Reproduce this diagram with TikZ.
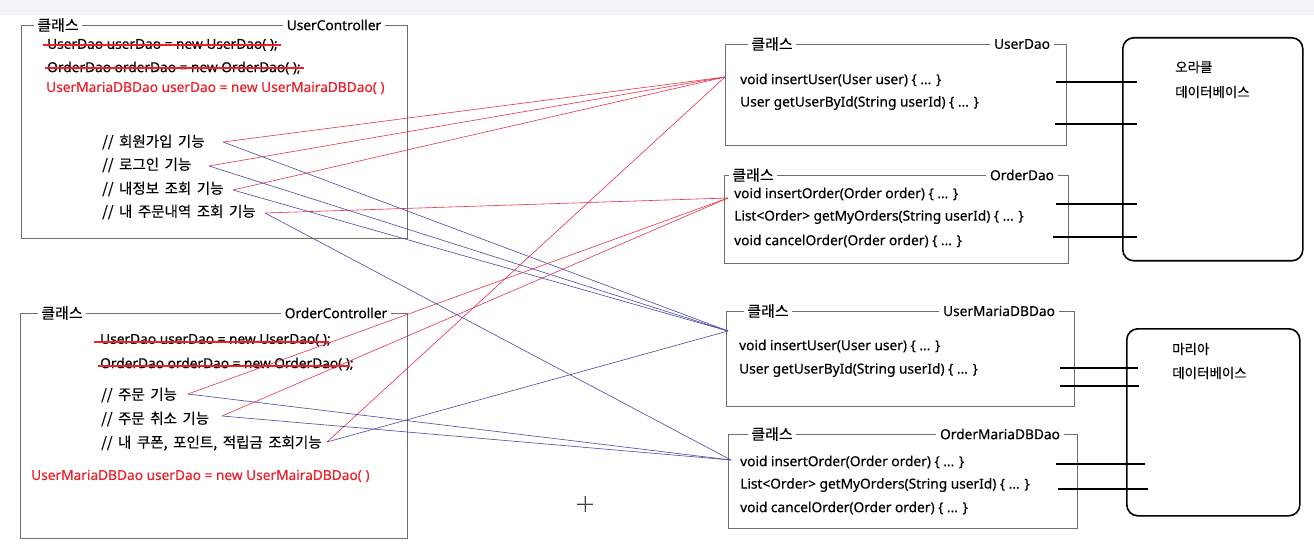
\documentclass[tikz,border=0pt]{standalone}
\usepackage{fontspec}
\setmainfont{Noto Sans}[FakeBold=0.3]
\newfontfamily\kr{Noto Sans CJK KR}[FakeBold=0.3, WordSpace=1.7]
\definecolor{codered}{HTML}{F0202A}
\definecolor{linkred}{HTML}{E8304A}
\definecolor{linkblue}{HTML}{4848A8}
\definecolor{boxline}{HTML}{6E6E6E}
\definecolor{topband}{HTML}{F3F3F5}
\newcommand{\codesize}{\fontsize{13.7}{13.7}\selectfont}
\newcommand{\krsize}{\kr\fontsize{14.5}{14.5}\selectfont}
\tikzset{
  classbox/.style={draw=boxline, line width=0.9pt, anchor=north west, inner sep=0pt},
  classtag/.style={fill=white, inner xsep=3pt, inner ysep=1pt, font=\kr\fontsize{15}{15}\selectfont},
  nametag/.style={fill=white, inner xsep=4pt, inner ysep=1pt, font=\codesize},
  codeline/.style={anchor=west, inner sep=0pt, font=\codesize},
  newcode/.style={codeline, text=codered},
  comment/.style={anchor=west, inner sep=0pt, font=\krsize},
  strike/.style={codered, line width=1.8pt},
  dbbox/.style={draw, line width=1.6pt, rounded corners=11pt, anchor=north west, inner sep=0pt},
  dblabel/.style={anchor=west, inner sep=0pt, font=\kr\fontsize{13.5}{13.5}\selectfont},
  dblink/.style={line width=1.6pt},
  toold/.style={linkred, line width=0.6pt},
  tonew/.style={linkblue, line width=0.6pt},
}
\begin{document}
\begin{tikzpicture}[x=1pt, y=-1pt]
  \useasboundingbox (0,0) rectangle (1314,553);
  \fill[white] (0,0) rectangle (1314,553);
  \fill[topband] (0,0) rectangle (1314,15);

  % UserController
  \node[classbox, minimum width=386pt, minimum height=213pt] (uc) at (21,25) {};
  \node[classtag] (uctag) at (58,25) {클래스};
  \node[nametag] (ucname) at (334,25) {UserController};
  \node[codeline] (uc1) at (47,45) {UserDao userDao = new UserDao( );};
  \node[codeline] (uc2) at (47,68) {OrderDao orderDao = new OrderDao( );};
  \node[newcode] (uc3) at (46,88) {UserMariaDBDao userDao = new UserMairaDBDao( )};
  \draw[strike] ([xshift=-4pt]uc1.west) -- ([xshift=3pt]uc1.east);
  \draw[strike] ([xshift=-2pt]uc2.west) -- ([xshift=3pt]uc2.east);
  \node[comment] (join) at (102,142) {// 회원가입 기능};
  \node[comment] (login) at (102,165) {// 로그인 기능};
  \node[comment] (myinfo) at (102,189) {// 내정보 조회 기능};
  \node[comment] (myorders) at (102,212) {// 내 주문내역 조회 기능};

  % OrderController
  \node[classbox, minimum width=387pt, minimum height=225pt] (oc) at (20,313) {};
  \node[classtag] (octag) at (62,313) {클래스};
  \node[nametag] (ocname) at (336,313) {OrderController};
  \node[codeline] (oc1) at (100,340) {UserDao userDao = new UserDao( );};
  \node[codeline] (oc2) at (100,364) {OrderDao orderDao = new OrderDao( );};
  \draw[strike] ([xshift=-6pt,yshift=-2pt]oc1.west) -- ([xshift=-2pt,yshift=-2pt]oc1.east);
  \draw[strike] ([xshift=-2pt,yshift=-2pt]oc2.west) -- ([xshift=-4pt,yshift=-2pt]oc2.east);
  \node[comment] (order) at (101,395) {// 주문 기능};
  \node[comment] (cancel) at (101,419) {// 주문 취소 기능};
  \node[comment] (coupon) at (101,443) {// 내 쿠폰, 포인트, 적립금 조회기능};
  \node[newcode] (oc3) at (31,476) {UserMariaDBDao userDao = new UserMairaDBDao( )};

  % UserDao
  \node[classbox, minimum width=341pt, minimum height=101pt] (ud) at (725,44) {};
  \node[classtag] (udtag) at (772,44) {클래스};
  \node[nametag] (udname) at (1022,44) {UserDao};
  \node[codeline] (ud1) at (740,80) {void insertUser(User user) \{ ... \}};
  \node[codeline] (ud2) at (740,103) {User getUserById(String userId) \{ ... \}};

  % OrderDao
  \node[classbox, minimum width=344pt, minimum height=88pt] (od) at (724,175) {};
  \node[classtag] (odtag) at (753,175) {클래스};
  \node[nametag] (odname) at (1022,175) {OrderDao};
  \node[codeline] (od1) at (734,194) {void insertOrder(Order order) \{ ... \}};
  \node[codeline] (od2) at (734,217) {List<Order> getMyOrders(String userId) \{ ... \}};
  \node[codeline] (od3) at (734,241) {void cancelOrder(Order order) \{ ... \}};

  % UserMariaDBDao
  \node[classbox, minimum width=348pt, minimum height=95pt] (um) at (726,311) {};
  \node[classtag] (umtag) at (768,311) {클래스};
  \node[nametag] (umname) at (999,311) {UserMariaDBDao};
  \node[codeline] (um1) at (739,346) {void insertUser(User user) \{ ... \}};
  \node[codeline] (um2) at (739,370) {User getUserById(String userId) \{ ... \}};

  % OrderMariaDBDao
  \node[classbox, minimum width=349pt, minimum height=94pt] (om) at (728,434) {};
  \node[classtag] (omtag) at (772,434) {클래스};
  \node[nametag] (omname) at (1000,434) {OrderMariaDBDao};
  \node[codeline] (om1) at (740,462) {void insertOrder(Order order) \{ ... \}};
  \node[codeline] (om2) at (740,485) {List<Order> getMyOrders(String userId) \{ ... \}};
  \node[codeline] (om3) at (740,508) {void cancelOrder(Order order) \{ ... \}};

  % databases
  \node[dbbox, minimum width=180pt, minimum height=223pt] (oracle) at (1122,37) {};
  \node[dblabel] (oracle1) at (1175,67) {오라클};
  \node[dblabel] (oracle2) at (1175,92) {데이터베이스};
  \node[dbbox, minimum width=173pt, minimum height=187pt] (maria) at (1126,328) {};
  \node[dblabel] (maria1) at (1172,349) {마리아};
  \node[dblabel] (maria2) at (1172,373) {데이터베이스};

  % dao to database
  \foreach \i/\xa/\xb/\y in {1/1056/1137/82, 2/1055/1137/124, 3/1056/1137/204, 4/1053/1137/237,
                             5/1060/1138/368, 6/1060/1139/386, 7/1056/1145/464, 8/1058/1148/489} {
    \coordinate (pa\i) at (\xa,\y);
    \coordinate (pb\i) at (\xb,\y);
    \draw[dblink] (pa\i) -- (pb\i);
  }

  % controller to dao
  \coordinate (sjoin) at (223,142);
  \coordinate (slogin) at (209,166);
  \coordinate (smyinfo) at (233,190);
  \coordinate (smyorders) at (265,213);
  \coordinate (sorder) at (188,394);
  \coordinate (scancel) at (222,416);
  \coordinate (scoupon) at (327,442);
  \coordinate (eud) at (725,77);
  \coordinate (eod) at (728,198);
  \coordinate (eum) at (728,331);
  \coordinate (eom) at (731,460);
  \foreach \s in {sjoin, slogin, smyinfo, scoupon} {
    \draw[toold] (\s) -- (eud);
    \draw[tonew] (\s) -- (eum);
  }
  \foreach \s in {smyorders, sorder, scancel} {
    \draw[toold] (\s) -- (eod);
    \draw[tonew] (\s) -- (eom);
  }

  % mouse cursor
  \coordinate (cur) at (585,504);
  \draw[gray!45, line width=2.6pt] ([xshift=-8pt]cur) -- ([xshift=8pt]cur);
  \draw[gray!45, line width=2.6pt] ([yshift=-8pt]cur) -- ([yshift=8pt]cur);
  \draw[black!75, line width=0.8pt] ([xshift=-8pt]cur) -- ([xshift=8pt]cur);
  \draw[black!75, line width=0.8pt] ([yshift=-8pt]cur) -- ([yshift=8pt]cur);
\end{tikzpicture}
\end{document}
